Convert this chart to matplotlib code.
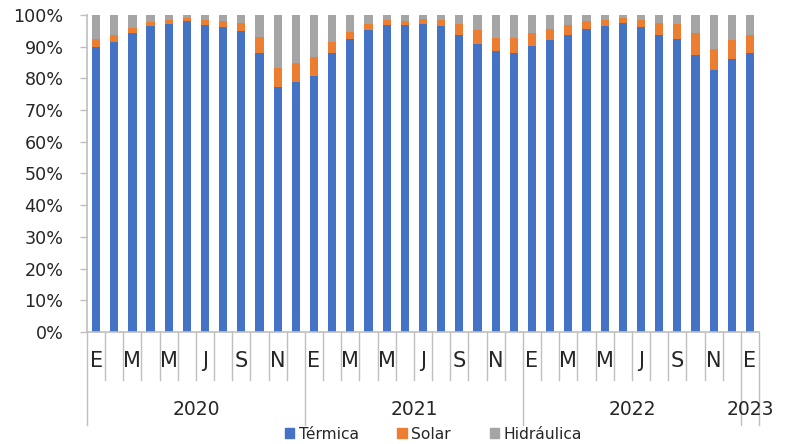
#!/usr/bin/env python3
"""Monthly generation mix 2020-2023, 100% stacked bars (Térmica / Solar / Hidráulica)."""
import numpy as np
import matplotlib
matplotlib.use("Agg")
import matplotlib.pyplot as plt
from matplotlib.patches import Patch

plt.rcParams["font.family"] = ["DejaVu Sans"]

# share of each source per month, Jan 2020 .. Jan 2023 (%)
termica = [89.8, 91.4, 94.2, 96.5, 97.2, 98.0, 96.9, 96.3, 94.9, 87.9, 77.2, 79.0,
           80.9, 87.9, 92.5, 95.2, 96.8, 96.7, 97.1, 96.6, 93.7, 90.9, 88.6, 88.1,
           90.2, 92.2, 93.8, 95.6, 96.6, 97.5, 96.3, 93.8, 92.4, 87.3, 82.5, 86.1, 87.9]
solar = [2.7, 2.4, 1.7, 1.4, 1.3, 1.0, 1.4, 1.9, 2.7, 5.2, 6.2, 6.0,
         5.8, 3.6, 2.2, 2.0, 1.6, 1.5, 1.6, 1.7, 3.5, 4.4, 4.1, 4.5,
         4.1, 3.5, 3.0, 2.4, 1.9, 1.6, 2.2, 3.7, 4.7, 6.9, 6.8, 6.1, 5.9]
hidraulica = [7.5, 6.2, 4.1, 2.1, 1.5, 1.0, 1.7, 1.8, 2.4, 6.9, 16.6, 15.0,
              13.3, 8.5, 5.3, 2.8, 1.6, 1.8, 1.3, 1.7, 2.8, 4.7, 7.3, 7.4,
              5.7, 4.3, 3.2, 2.0, 1.5, 0.9, 1.5, 2.5, 2.9, 5.8, 10.7, 7.8, 6.2]
month_letters = ["E", "F", "M", "A", "M", "J", "J", "A", "S", "O", "N", "D"]
years = ["2020", "2021", "2022", "2023"]
year_months = [12, 12, 12, 1]

C_TER, C_SOL, C_HID = "#4472C4", "#ED7D31", "#A5A5A5"
AX_C = "#BFBFBF"
TXT = "#262626"

n = len(termica)
x = np.arange(n)
ter = np.array(termica); sol = np.array(solar); hid = np.array(hidraulica)

fig = plt.figure(figsize=(7.91, 4.44), dpi=100)
ax = fig.add_axes([0.110, 0.2523, 0.8496, 0.7139])

w = 0.45
ax.bar(x, ter, w, color=C_TER)
ax.bar(x, sol, w, bottom=ter, color=C_SOL)
ax.bar(x, hid, w, bottom=ter + sol, color=C_HID)

ax.set_xlim(-0.5, n - 0.5)
ax.set_ylim(0, 100)
ax.set_yticks(np.arange(0, 101, 10))
ax.set_yticklabels([f"{v}%" for v in range(0, 101, 10)], fontsize=12.6, color=TXT)
ax.tick_params(axis="y", length=5, color=AX_C, width=1, pad=12)
ax.set_xticks([])
for s in ["top", "right"]:
    ax.spines[s].set_visible(False)
for s in ["left", "bottom"]:
    ax.spines[s].set_color(AX_C)
    ax.spines[s].set_linewidth(1.2)

# multi-level category axis: month separators, month letters, year blocks
tr = ax.get_xaxis_transform()
year_edges = np.concatenate([[0], np.cumsum(year_months)])
for k in range(n + 1):
    depth = -0.293 if k in year_edges else -0.151
    ax.plot([k - 0.5, k - 0.5], [0, depth], color=AX_C, lw=1, transform=tr, clip_on=False)
for i in range(0, n, 2):
    ax.text(i, -0.092, month_letters[i % 12], transform=tr, ha="center", va="center",
            fontsize=15, color=TXT)
for yr, a, b in zip(years, year_edges[:-1], year_edges[1:]):
    ax.text((a + b - 1) / 2, -0.246, yr, transform=tr, ha="center", va="center",
            fontsize=13.5, color=TXT)

handles = [Patch(color=C_TER, label="Térmica"), Patch(color=C_SOL, label="Solar"),
           Patch(color=C_HID, label="Hidráulica")]
fig.legend(handles=handles, loc="center", bbox_to_anchor=(0.548, 0.022), ncol=3,
           frameon=False, fontsize=11.2, handlelength=0.6, handleheight=0.6,
           handletextpad=0.3, columnspacing=2.5, labelcolor=TXT)

fig.savefig("out.png", dpi=100)
